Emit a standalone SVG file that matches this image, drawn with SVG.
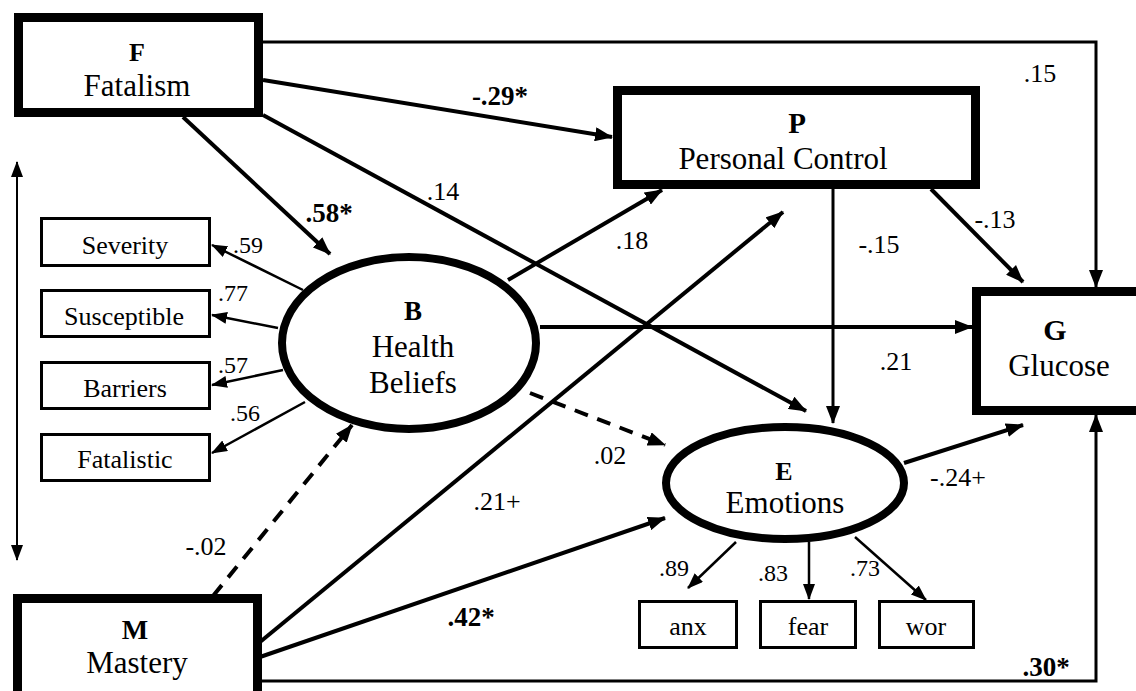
<svg xmlns="http://www.w3.org/2000/svg" width="1136" height="691" viewBox="0 0 1136 691" font-family="Liberation Serif, Times New Roman, DejaVu Serif, serif">
<defs>
<marker id="ah" viewBox="0 0 18 14" refX="17" refY="7" markerWidth="18" markerHeight="14" markerUnits="userSpaceOnUse" orient="auto"><path d="M0,0 L18,7 L0,14 z" fill="#000"/></marker>
<marker id="as" viewBox="0 0 16 12" refX="15" refY="6" markerWidth="16" markerHeight="12" markerUnits="userSpaceOnUse" orient="auto"><path d="M0,0 L16,6 L0,12 z" fill="#000"/></marker>
<marker id="asr" viewBox="0 0 16 12" refX="1" refY="6" markerWidth="16" markerHeight="12" markerUnits="userSpaceOnUse" orient="auto"><path d="M16,0 L0,6 L16,12 z" fill="#000"/></marker>
</defs>
<style>
text{font-family:Liberation Serif, Times New Roman, DejaVu Serif, serif;fill:#000;text-anchor:middle}
.big{stroke:#000;stroke-width:9;fill:#fff}
.lat{stroke:#000;stroke-width:8;fill:#fff}
.ind{stroke:#000;stroke-width:3;fill:#fff}
.k{font-weight:bold}
.nm{font-size:31px}
.it{font-size:26px}
.lb{font-size:26px}
.lbs{font-size:24px}
.bl{font-size:27px;font-weight:bold}
.c{fill:none;stroke:#000}
.th{stroke-width:4;marker-end:url(#ah)}
.md{stroke-width:3;marker-end:url(#ah)}
.tn{stroke-width:2.5;marker-end:url(#as)}
.ds{stroke-width:4;stroke-dasharray:14 10;marker-end:url(#ah)}
</style>
<rect width="1136" height="691" fill="#fff"/>
<g id="connectors">
<path class="c md" d="M263,42 H1096 V287"/>
<path class="c md" d="M262,681 H1096 V415"/>
<line class="c" x1="17" y1="162" x2="17" y2="560" stroke-width="2" marker-start="url(#asr)" marker-end="url(#as)"/>
<line class="c th" x1="263" y1="80" x2="612" y2="137"/>
<line class="c th" x1="183" y1="117" x2="330" y2="254"/>
<line class="c th" x1="263" y1="115" x2="806" y2="411"/>
<line class="c th" x1="508" y1="280" x2="662" y2="190"/>
<line class="c th" x1="260" y1="642" x2="783" y2="212"/>
<line class="c th" x1="260" y1="657" x2="665" y2="518"/>
<line class="c th" x1="540" y1="327" x2="972" y2="327"/>
<line class="c md" x1="833" y1="189" x2="833" y2="423"/>
<line class="c th" x1="931" y1="189" x2="1023" y2="282"/>
<line class="c th" x1="904" y1="463" x2="1023" y2="425"/>
<line class="c ds" x1="530" y1="393" x2="665" y2="445"/>
<line class="c ds" x1="213" y1="596" x2="352" y2="425"/>
<line class="c tn" x1="303" y1="290" x2="212" y2="245"/>
<line class="c tn" x1="278" y1="328" x2="212" y2="315"/>
<line class="c tn" x1="283" y1="370" x2="212" y2="385"/>
<line class="c tn" x1="305" y1="402" x2="212" y2="453"/>
<line class="c tn" x1="736" y1="542" x2="688" y2="588"/>
<line class="c tn" x1="809" y1="542" x2="809" y2="599"/>
<line class="c tn" x1="855" y1="537" x2="926" y2="600"/>
</g>
<g id="labels">
<text class="lb" x="1040" y="82">.15</text>
<text class="bl" x="500" y="105">-.29*</text>
<text class="bl" x="329" y="222">.58*</text>
<text class="lb" x="443" y="200">.14</text>
<text class="lb" x="632" y="249">.18</text>
<text class="lb" x="879" y="253">-.15</text>
<text class="lb" x="995" y="228">-.13</text>
<text class="lb" x="896" y="370">.21</text>
<text class="lb" x="610" y="464">.02</text>
<text class="lb" x="497" y="510">.21+</text>
<text class="lb" x="206" y="555">-.02</text>
<text class="bl" x="471" y="626">.42*</text>
<text class="bl" x="1046" y="676">.30*</text>
<text class="lb" x="958" y="486">-.24+</text>
<text class="lbs" x="248" y="253">.59</text>
<text class="lbs" x="233" y="301">.77</text>
<text class="lbs" x="233" y="373">.57</text>
<text class="lbs" x="245" y="421">.56</text>
<text class="lbs" x="674" y="576">.89</text>
<text class="lbs" x="773" y="581">.83</text>
<text class="lbs" x="865" y="576">.73</text>
</g>
<g id="node-F"><rect class="big" x="18.5" y="17.5" width="240" height="95"/><text class="k" x="137" y="61" font-size="26">F</text><text class="nm" x="137" y="96">Fatalism</text></g>
<g id="node-P"><rect class="big" x="617.5" y="90.5" width="358" height="94"/><text class="k" x="797" y="133" font-size="29">P</text><text class="nm" x="783" y="169">Personal Control</text></g>
<g id="node-G"><rect class="big" x="976.5" y="291.5" width="200" height="119"/><text class="k" x="1055" y="340" font-size="30">G</text><text class="nm" x="1059" y="376">Glucose</text></g>
<g id="node-M"><rect class="big" x="17.5" y="598.5" width="240" height="120"/><text class="k" x="135" y="639" font-size="28">M</text><text class="nm" x="137" y="673">Mastery</text></g>
<g id="node-B"><ellipse class="lat" cx="409" cy="343" rx="127" ry="86"/><text class="k" x="413" y="320" font-size="27">B</text><text class="nm" x="413" y="357">Health</text><text class="nm" x="413" y="393">Beliefs</text></g>
<g id="node-E"><ellipse class="lat" cx="785" cy="483" rx="119" ry="56"/><text class="k" x="784" y="480" font-size="26">E</text><text class="nm" x="785" y="513">Emotions</text></g>
<g id="node-severity"><rect class="ind" x="41.5" y="218.5" width="168" height="47"/><text class="it" x="125" y="254">Severity</text></g>
<g id="node-susceptible"><rect class="ind" x="41.5" y="290.5" width="168" height="46"/><text class="it" x="124" y="325">Susceptible</text></g>
<g id="node-barriers"><rect class="ind" x="41.5" y="362.5" width="168" height="46"/><text class="it" x="125" y="397">Barriers</text></g>
<g id="node-fatalistic"><rect class="ind" x="41.5" y="434.5" width="168" height="46"/><text class="it" x="125" y="468">Fatalistic</text></g>
<g id="node-anx"><rect class="ind" x="639.5" y="601.5" width="97" height="46"/><text class="it" x="688" y="635">anx</text></g>
<g id="node-fear"><rect class="ind" x="760.5" y="601.5" width="95" height="46"/><text class="it" x="808" y="635">fear</text></g>
<g id="node-wor"><rect class="ind" x="879.5" y="601.5" width="94" height="46"/><text class="it" x="926" y="635">wor</text></g>
</svg>
